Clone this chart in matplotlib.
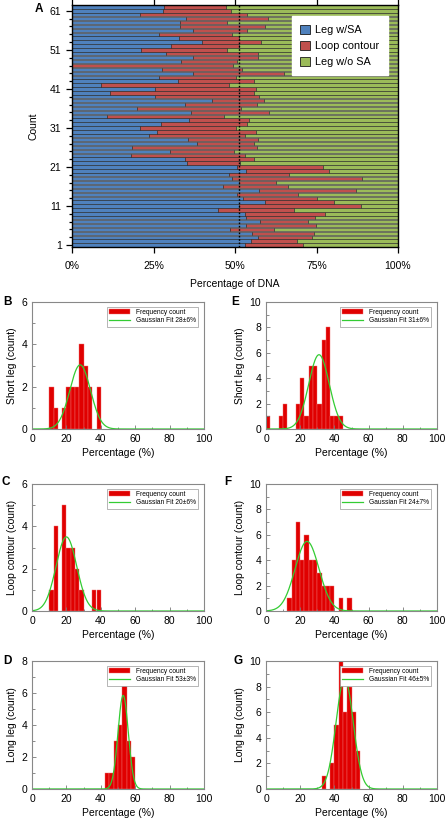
import numpy as np
import matplotlib.pyplot as plt
from matplotlib.ticker import MultipleLocator, FuncFormatter
from matplotlib.patches import Patch

plt.rcParams['font.family'] = ['Liberation Sans', 'DejaVu Sans']

# =========================
# DATA
# =========================

# panel A: one bar per molecule (count 1..62), values in % of DNA
count = np.arange(1, 63)
leg_sa = [53.2, 54.8, 57.1, 55.1, 48.6, 53.3, 57.6, 53.5, 53.0, 44.8,
          51.2, 59.3, 52.5, 50.5, 57.3, 46.2, 51.2, 49.1, 48.1, 53.3,
          50.7, 35.4, 34.8, 18.0, 30.2, 18.3, 38.4, 35.6, 23.6, 26.1,
          20.8, 27.3, 35.8, 10.8, 36.5, 19.8, 34.8, 42.8, 25.6, 11.6,
          25.6, 8.8, 32.6, 26.7, 37.2, 27.5, 0.0, 33.4, 37.0, 28.7,
          21.1, 30.5, 39.9, 32.8, 26.6, 37.0, 33.1, 33.1, 34.9, 20.8,
          28.0, 28.2]
loop_contour = [17.7, 14.1, 16.6, 19.2, 13.3, 21.5, 14.8, 21.0, 24.5, 23.2,
                37.3, 21.0, 22.7, 18.9, 29.9, 20.1, 11.3, 39.9, 18.5, 25.6,
                26.3, 16.1, 21.1, 35.0, 19.4, 38.5, 17.5, 21.6, 29.4, 30.3,
                29.5, 26.4, 18.5, 35.9, 23.8, 32.1, 21.8, 16.0, 31.7, 44.1,
                30.8, 39.4, 23.1, 23.6, 27.9, 24.5, 49.4, 17.1, 20.1, 28.4,
                26.3, 20.7, 18.2, 18.4, 22.6, 16.8, 26.2, 14.3, 25.3, 33.0,
                20.9, 18.9]
leg_wo_sa = 100 - np.array(leg_sa) - np.array(loop_contour)
mid_line = 51.3

# histograms: left edge of 2.5 % bins and counts
b_bins = [10, 12.5, 17.5, 20, 22.5, 25, 27.5, 30, 32.5, 37.5]
b_counts = [2, 1, 1, 2, 2, 2, 4, 3, 2, 2]
c_bins = [10, 12.5, 17.5, 20, 22.5, 25, 27.5, 35, 37.5]
c_counts = [1, 4, 5, 3, 3, 2, 1, 1, 1]
d_bins = [42.5, 45, 47.5, 50, 52.5, 55, 57.5]
d_counts = [1, 1, 3, 4, 7, 3, 2]
e_bins = [0, 7.5, 10, 17.5, 20, 22.5, 25, 27.5, 30, 32.5, 35, 37.5, 40, 42.5]
e_counts = [1, 1, 2, 2, 4, 1, 5, 5, 2, 7, 8, 1, 1, 1]
f_bins = [12.5, 15, 17.5, 20, 22.5, 25, 27.5, 30, 32.5, 35, 37.5, 42.5, 47.5]
f_counts = [1, 4, 7, 4, 6, 4, 4, 3, 2, 2, 2, 1, 1]
g_bins = [32.5, 37.5, 40, 42.5, 45, 47.5, 50, 52.5]
g_counts = [1, 2, 5, 10, 6, 8, 6, 3]

# gaussian fits (mean, sd, peak height) in order B, C, D, E, F, G
fit_mean = [28, 20, 53, 31, 24, 46]
fit_sd = [6, 6, 3, 6, 7, 5]
fit_peak = [3.03, 3.5, 5.85, 5.85, 5.48, 8.65]

W, H = 447, 823
fig = plt.figure(figsize=(W / 100, H / 100), dpi=100)


def rect(left, top, right, bottom):
    return [left / W, 1 - bottom / H, (right - left) / W, (bottom - top) / H]


# =========================
# PANEL A
# =========================
axA = fig.add_axes(rect(72, 5, 398, 247))
edge = dict(edgecolor='#222222', linewidth=0.4, height=0.86)
axA.barh(count, leg_sa, color='#4F81BD', **edge)
axA.barh(count, loop_contour, left=leg_sa, color='#C0504D', **edge)
axA.barh(count, leg_wo_sa, left=np.array(leg_sa) + np.array(loop_contour),
         color='#9BBB59', **edge)
axA.axvline(mid_line, color='black', linestyle=(0, (1.2, 1.2)), linewidth=1.0)

axA.set_xlim(0, 100)
axA.set_ylim(0.5, 62.5)
axA.set_xticks([0, 25, 50, 75, 100])
axA.xaxis.set_major_formatter(FuncFormatter(lambda v, p: '%d%%' % v))
axA.set_yticks([1, 11, 21, 31, 41, 51, 61])
axA.yaxis.set_minor_locator(MultipleLocator(2, offset=1))
axA.tick_params(axis='both', labelsize=7.5, direction='out', length=4, width=0.9)
axA.tick_params(axis='y', which='minor', length=2.5, width=0.9)
axA.tick_params(axis='x', top=True, pad=6)
for s in axA.spines.values():
    s.set_linewidth(1.0)
axA.set_xlabel('Percentage of DNA', fontsize=7.5, labelpad=6)
axA.set_ylabel('Count', fontsize=7.5, labelpad=8)

handles = [Patch(facecolor=c, edgecolor='#1a1a1a', linewidth=0.6)
           for c in ['#4F81BD', '#C0504D', '#9BBB59']]
legA = axA.legend(handles, ['Leg w/SA', 'Loop contour', 'Leg w/o SA'],
                  loc='upper right', bbox_to_anchor=(0.985, 0.975),
                  fontsize=7.8, handlelength=0.9, handleheight=0.9,
                  handletextpad=0.5, labelspacing=0.55, borderpad=0.75,
                  fancybox=False, framealpha=1)
legA.get_frame().set_edgecolor('white')
fig.text(35 / W, 1 - 9 / H, 'A', fontsize=8.5, fontweight='bold', va='center')


# =========================
# HISTOGRAMS
# =========================
def hist_panel(box, bins, counts, k, ymax, ylabel, letter, letter_xy):
    ax = fig.add_axes(rect(*box))
    bars = ax.bar(bins, counts, width=2.5, align='edge', color='#E00000',
                  edgecolor='#f07070', linewidth=0.3)
    x = np.linspace(0, 100, 501)
    y = fit_peak[k] * np.exp(-0.5 * ((x - fit_mean[k]) / fit_sd[k]) ** 2)
    line, = ax.plot(x, y, color='#33CC33', linewidth=0.9)
    ax.set_xlim(0, 100)
    ax.set_ylim(0, ymax)
    ax.set_xticks(range(0, 101, 20))
    ax.xaxis.set_minor_locator(MultipleLocator(10))
    ax.set_yticks(range(0, ymax + 1, 2))
    ax.yaxis.set_minor_locator(MultipleLocator(1))
    ax.tick_params(axis='both', which='both', direction='in', labelsize=7.5,
                   color='#777777', width=0.6)
    ax.tick_params(which='major', length=3)
    ax.tick_params(which='minor', length=1.8)
    for s in ax.spines.values():
        s.set_color('#888888')
        s.set_linewidth(0.8)
    ax.set_xlabel('Percentage (%)', fontsize=7.5, labelpad=3)
    ax.set_ylabel(ylabel, fontsize=7.5, labelpad=3)
    leg = ax.legend([bars, line],
                    ['Frequency count',
                     'Gaussian Fit %d\u00b1%d%%' % (fit_mean[k], fit_sd[k])],
                    loc='upper right', bbox_to_anchor=(0.985, 0.99),
                    fontsize=4.8, handlelength=3.2, handleheight=0.9,
                    labelspacing=0.2, borderpad=0.35, fancybox=False,
                    framealpha=1)
    leg.get_frame().set_edgecolor('#999999')
    leg.get_frame().set_linewidth(0.5)
    fig.text(letter_xy[0] / W, 1 - letter_xy[1] / H, letter, fontsize=8.5,
             fontweight='bold', va='center')


hist_panel((32, 302, 204, 429), b_bins, b_counts, 0, 6, 'Short leg (count)', 'B', (3, 302))
hist_panel((32, 484, 204, 611), c_bins, c_counts, 1, 6, 'Loop contour (count)', 'C', (1, 482))
hist_panel((32, 661, 204, 789), d_bins, d_counts, 2, 8, 'Long leg (count)', 'D', (3, 661))
hist_panel((266, 302, 437, 429), e_bins, e_counts, 3, 10, 'Short leg (count)', 'E', (231, 302))
hist_panel((266, 484, 437, 611), f_bins, f_counts, 4, 10, 'Loop contour (count)', 'F', (224, 482))
hist_panel((266, 661, 437, 789), g_bins, g_counts, 5, 10, 'Long leg (count)', 'G', (233, 661))

fig.savefig('out.png', dpi=100)
plt.close()
